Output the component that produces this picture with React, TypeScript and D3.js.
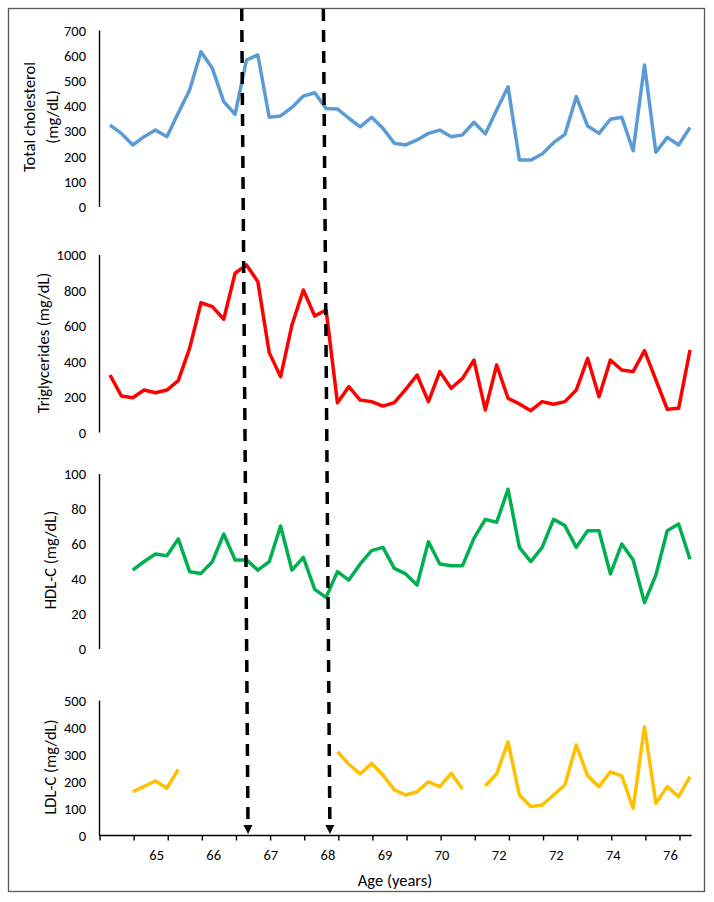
import React from "react";
import * as d3 from "d3";

// ---- data (category index 0..51 along the age axis) ----
const totalCholesterol = [325,292,246,279,305,279,373,464,616,550,418,368,583,603,356,361,395,440,453,391,389,352,318,356,312,253,246,266,292,305,279,286,336,290,385,477,186,186,210,255,288,438,321,292,348,356,223,563,217,276,246,316];
const triglycerides = [324,206,196,239,224,239,292,474,731,709,638,897,944,850,450,314,606,803,656,690,168,258,183,174,149,168,243,324,174,343,249,305,408,127,380,193,161,123,174,159,174,239,418,202,408,352,343,461,296,131,136,465];
const hdlC: (number | null)[] = [null,null,45.1,50,54.3,53.3,62.9,44.2,43.2,49.9,65.7,50.9,50.9,45.1,49.9,70.3,45.1,52.4,34.1,29.5,44.2,39.4,48.6,56.2,58.1,46.1,42.9,36.6,61.3,48.6,47.6,47.6,63.2,74.1,72.4,91.3,58.1,49.9,58.1,74.1,70.5,58.1,67.6,67.6,42.9,60.0,50.9,26.5,42.3,67.6,71.4,51.3];
const ldlC: (number | null)[] = [null,null,162,182,202,175,245,null,null,null,null,null,null,null,null,null,null,null,null,null,310,264,228,267,224,169,150,162,199,181,230,172,null,184,228,347,150,107,113,150,187,335,221,181,236,221,101,403,119,181,144,218];

const tcTicks = [0,100,200,300,400,500,600,700];
const tgTicks = [0,200,400,600,800,1000];
const hdlTicks = [0,20,40,60,80,100];
const ldlTicks = [0,100,200,300,400,500];

const ageLabels = ["65","66","67","68","69","70","72","72","74","76"];
// dashed event markers (category index at top and at arrow tip)
const eventTop = [11.58, 18.76];
const eventBottom = [12.14, 19.34];

const FONT = "Carlito, Calibri, Lato, 'Open Sans', sans-serif";

export default function App() {
  const W = 714, H = 902;
  const x = d3.scaleLinear().domain([-0.88, 51.15]).range([100, 691.7]);
  const axisX = 99.5;
  const tickFs = 14.5;
  const labFs = 16.5;

  const panels = [
    { values: totalCholesterol as (number|null)[], ticks: tcTicks, color: "#5B9BD5", yr: [207, 30.5], label: ["Total cholesterol", "(mg/dL)"], lx: [29, 52], ly: 117 },
    { values: triglycerides as (number|null)[], ticks: tgTicks, color: "#FF0000", yr: [432.5, 255], label: ["Triglycerides (mg/dL)"], lx: [43], ly: 343 },
    { values: hdlC, ticks: hdlTicks, color: "#00B050", yr: [649, 474], label: ["HDL-C (mg/dL)"], lx: [50], ly: 560 },
    { values: ldlC, ticks: ldlTicks, color: "#FFC000", yr: [835.5, 700.5], label: ["LDL-C (mg/dL)"], lx: [50], ly: 767 },
  ];

  const xTicks = d3.range(18).map((k) => -0.88 + 3 * k);
  const xAxisY = 835.5;

  return (
    <svg width={W} height={H} style={{ position: "absolute", left: 0, top: 0, display: "block", background: "#fff" }} fontFamily={FONT}>
      <rect x={0} y={0} width={W} height={H} fill="#fff" />
      <rect x={8.5} y={8.5} width={696} height={883} fill="none" stroke="#595959" strokeWidth={1.3} />
      {panels.map((p, pi) => {
        const max = p.ticks[p.ticks.length - 1];
        const y = d3.scaleLinear().domain([0, max]).range(p.yr);
        const line = d3
          .line<number | null>()
          .defined((d) => d != null)
          .x((_, i) => x(i))
          .y((d) => y(d as number));
        return (
          <g key={pi}>
            <line x1={axisX} x2={axisX} y1={y(max)} y2={y(0)} stroke="#000" strokeWidth={1.4} />
            {p.ticks.map((t) => (
              <text key={t} x={86} y={y(t)} dy="0.35em" textAnchor="end" fontSize={tickFs} fill="#000">
                {t}
              </text>
            ))}
            {p.label.map((s, li) => (
              <text key={li} transform={`translate(${p.lx[li]},${p.ly}) rotate(-90)`} textAnchor="middle" dy="0.35em" fontSize={labFs} fill="#000">
                {s}
              </text>
            ))}
            <path d={line(p.values) || ""} fill="none" stroke={p.color} strokeWidth={3.5} strokeLinejoin="round" />
          </g>
        );
      })}
      {/* x axis of bottom panel */}
      <line x1={axisX} x2={x(51.15)} y1={xAxisY} y2={xAxisY} stroke="#000" strokeWidth={1.4} />
      {xTicks.map((t, k) => (
        <line key={k} x1={x(t)} x2={x(t)} y1={xAxisY} y2={xAxisY + 5} stroke="#000" strokeWidth={1.4} />
      ))}
      {ageLabels.map((s, j) => (
        <text key={j} x={x(4.1 + 5.02 * j)} y={855} dy="0.35em" textAnchor="middle" fontSize={tickFs} fill="#000">
          {s}
        </text>
      ))}
      <text x={395} y={880} dy="0.35em" textAnchor="middle" fontSize={labFs} fill="#000">
        Age (years)
      </text>
      {/* dashed event markers with arrows */}
      {eventTop.map((t, k) => {
        const x1 = x(t), x2 = x(eventBottom[k]);
        const y1 = 9, y2 = 834;
        const len = Math.hypot(x2 - x1, y2 - y1);
        const ux = (x2 - x1) / len, uy = (y2 - y1) / len;
        const hl = 9, hw = 4.5;
        const bx = x2 - ux * hl, by = y2 - uy * hl;
        const pts = [
          [x2, y2],
          [bx - uy * hw, by + ux * hw],
          [bx + uy * hw, by - ux * hw],
        ];
        return (
          <g key={k}>
            <line x1={x1} y1={y1} x2={bx} y2={by} stroke="#000" strokeWidth={3.5} strokeDasharray="12 9" />
            <polygon points={pts.map((p) => p.join(",")).join(" ")} fill="#000" />
          </g>
        );
      })}
    </svg>
  );
}
